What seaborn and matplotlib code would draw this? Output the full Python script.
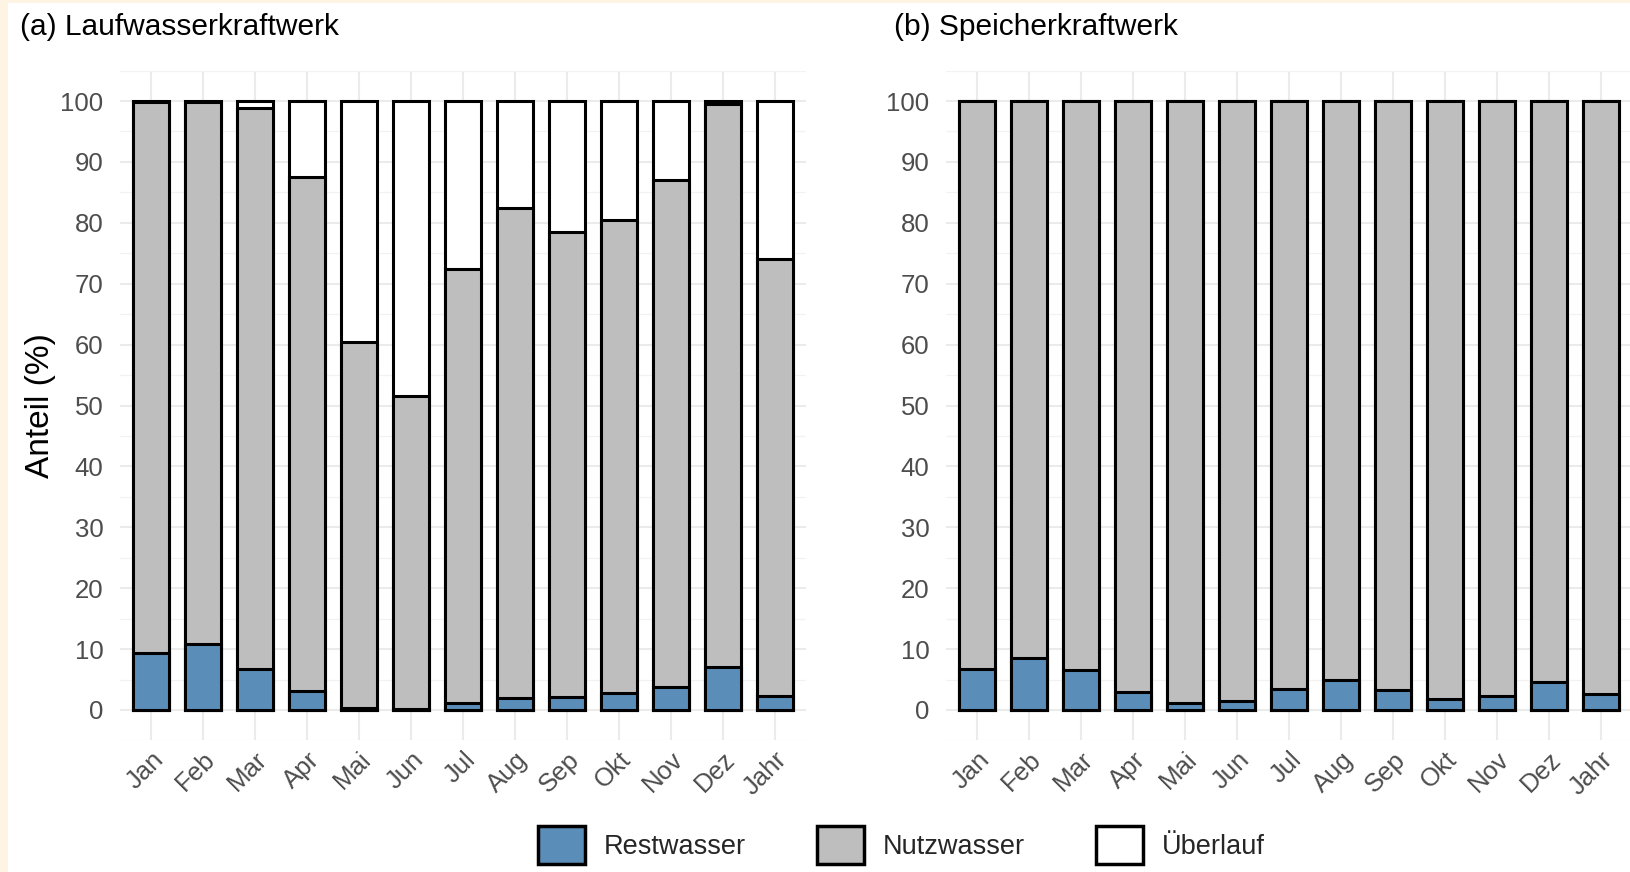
import matplotlib
matplotlib.use("Agg")
import matplotlib.pyplot as plt
from matplotlib.patches import Patch, Rectangle
from matplotlib.ticker import MultipleLocator
import seaborn as sns

months = ["Jan", "Feb", "Mar", "Apr", "Mai", "Jun", "Jul", "Aug", "Sep", "Okt", "Nov", "Dez", "Jahr"]

# (a) Laufwasserkraftwerk, shares in %
lauf_rest = [9.3, 10.8, 6.7, 3.1, 0.4, 0.2, 1.1, 1.9, 2.2, 2.8, 3.7, 7.1, 2.3]
lauf_nutz = [90.5, 89.1, 92.2, 84.5, 60.1, 51.4, 71.3, 80.6, 76.3, 77.6, 83.3, 92.4, 71.8]
lauf_ueber = [0.2, 0.1, 1.1, 12.4, 39.5, 48.4, 27.6, 17.5, 21.5, 19.6, 13.0, 0.5, 25.9]

# (b) Speicherkraftwerk
speicher_rest = [6.8, 8.6, 6.5, 2.9, 1.1, 1.4, 3.5, 4.9, 3.3, 1.8, 2.3, 4.6, 2.7]
speicher_nutz = [93.2, 91.4, 93.5, 97.1, 98.9, 98.6, 96.5, 95.1, 96.7, 98.2, 97.7, 95.4, 97.3]
speicher_ueber = [0.0] * 13

titles = ["(a) Laufwasserkraftwerk", "(b) Speicherkraftwerk"]
series_names = ["Restwasser", "Nutzwasser", "Überlauf"]
colors = ["#5b8db9", "#bebebe", "#ffffff"]

sns.set_style("white")
plt.rcParams["font.family"] = ["Liberation Sans", "DejaVu Sans"]

W, H = 1630, 872
fig = plt.figure(figsize=(W / 100, H / 100), dpi=100)
fig.patch.set_facecolor("#fef4e4")
fig.patches.append(Rectangle((8 / W, 0), 1, 1 - 3 / H, transform=fig.transFigure,
                             facecolor="white", edgecolor="none", zorder=-10))

panels = [
    (lauf_rest, lauf_nutz, lauf_ueber, 120),
    (speicher_rest, speicher_nutz, speicher_ueber, 946),
]
ax_top, ax_bot = 70.6, 740.4
ax_w = 686

for (rest, nutz, ueber, left_px), title, tx in zip(panels, titles, [20, 894]):
    ax = fig.add_axes([left_px / W, 1 - ax_bot / H, ax_w / W, (ax_bot - ax_top) / H])
    cum_rest = rest
    cum_nutz = [r + n for r, n in zip(rest, nutz)]
    cum_all = [r + n + u for r, n, u in zip(rest, nutz, ueber)]
    # layered stacking: tallest first
    for vals, col in zip([cum_all, cum_nutz, cum_rest], colors[::-1]):
        sns.barplot(x=months, y=vals, order=months, color=col, saturation=1,
                    width=0.7, edgecolor="black", linewidth=2.2, ax=ax, zorder=3)
    ax.set_xlim(-0.6, 12.6)
    ax.set_ylim(-5, 105)
    ax.yaxis.set_major_locator(MultipleLocator(10))
    ax.yaxis.set_minor_locator(MultipleLocator(5))
    ax.grid(True, which="major", axis="both", color="#ebebeb", linewidth=1.5, zorder=0)
    ax.grid(True, which="minor", axis="y", color="#f2f2f2", linewidth=0.9, zorder=0)
    ax.set_axisbelow(True)
    sns.despine(ax=ax, left=True, bottom=True)
    ax.set_xlabel("")
    ax.set_ylabel("")
    ax.tick_params(axis="both", which="both", length=0, labelsize=18.5, labelcolor="#4d4d4d")
    ax.tick_params(axis="y", pad=12)
    ax.tick_params(axis="x", pad=5)
    plt.setp(ax.get_xticklabels(), rotation=45, ha="right", rotation_mode="anchor")
    fig.text(tx / W, 1 - 35 / H, title, fontsize=21.5, color="black", va="baseline", ha="left")

fig.text(40 / W, 1 - 405.5 / H, "Anteil (%)", rotation=90, fontsize=24,
         ha="center", va="center", color="black")

handles = [Patch(facecolor=c, edgecolor="black", linewidth=2.5) for c in colors]
fig.legend(handles, series_names, loc="center", bbox_to_anchor=(0.553, 0.031), ncol=3,
           frameon=False, fontsize=19.5, handlelength=1.75, handleheight=1.75,
           handletextpad=0.7, columnspacing=2.6, borderpad=0)

fig.savefig("out.png", dpi=100, facecolor=fig.get_facecolor())
